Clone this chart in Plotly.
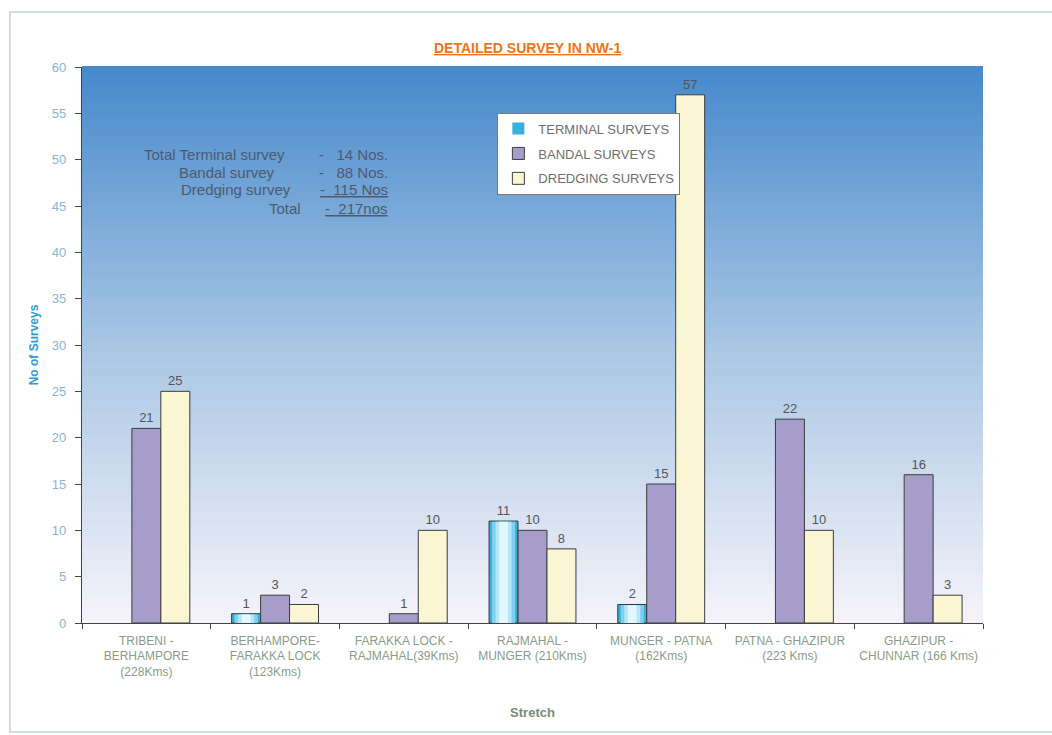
import plotly.graph_objects as go

# Survey counts per stretch of NW-1
stretches = [
    "TRIBENI -<br>BERHAMPORE<br>(228Kms)",
    "BERHAMPORE-<br>FARAKKA LOCK<br>(123Kms)",
    "FARAKKA LOCK -<br>RAJMAHAL(39Kms)",
    "RAJMAHAL -<br>MUNGER (210Kms)",
    "MUNGER - PATNA<br>(162Kms)",
    "PATNA - GHAZIPUR<br>(223 Kms)",
    "GHAZIPUR -<br>CHUNNAR (166 Kms)",
]
terminal_surveys = [0, 1, 0, 11, 2, 0, 0]
bandal_surveys = [21, 3, 1, 10, 15, 22, 16]
dredging_surveys = [25, 2, 10, 8, 57, 10, 3]

y_ticks = list(range(0, 61, 5))

summary_labels = ["Total Terminal survey", "Bandal survey", "Dredging survey", "Total"]
summary_values = ["-   14 Nos.", "-   88 Nos.", "<u>-  115 Nos</u>", "<u>-  217nos</u>"]

FONT = "Liberation Sans, Arial, sans-serif"
BAR_W = 0.225
OFFSETS = [-1.5 * BAR_W, -0.5 * BAR_W, 0.5 * BAR_W]


def label_text(vals):
    return [str(v) if v > 0 else "" for v in vals]


def outline(vals):
    return [1 if v > 0 else 0 for v in vals]


fig = go.Figure()

# terminal bars: cyan body with lighter inner bands for a rounded look
fig.add_trace(go.Bar(
    name="TERMINAL SURVEYS", x=stretches, y=terminal_surveys,
    width=BAR_W, offset=OFFSETS[0], legendgroup="t",
    marker=dict(color="#3aafda", line=dict(color="#2c3c44", width=outline(terminal_surveys))),
    text=label_text(terminal_surveys), textposition="outside", cliponaxis=False,
    textfont=dict(family=FONT, size=13, color="#555555"),
))
for frac, col in [(0.8, "#7fcfef"), (0.55, "#b6e6f9"), (0.3, "#e2f7fe")]:
    w = BAR_W * frac
    fig.add_trace(go.Bar(
        x=stretches, y=[v - 0.08 if v > 0 else 0 for v in terminal_surveys],
        width=w, offset=OFFSETS[0] + (BAR_W - w) / 2, showlegend=False,
        marker=dict(color=col, line=dict(width=0)), hoverinfo="skip",
    ))

for name, vals, color, off, grp in [
    ("BANDAL SURVEYS", bandal_surveys, "#a69dca", OFFSETS[1], "b"),
    ("DREDGING SURVEYS", dredging_surveys, "#faf6d4", OFFSETS[2], "d"),
]:
    fig.add_trace(go.Bar(
        name=name, x=stretches, y=vals, width=BAR_W, offset=off, legendgroup=grp,
        marker=dict(color=color, line=dict(color="#3c3c3c", width=outline(vals))),
        text=label_text(vals), textposition="outside", cliponaxis=False,
        textfont=dict(family=FONT, size=13, color="#555555"),
    ))


# vertical gradient for the plotting area
def mix(c1, c2, t):
    a = [int(c1[i:i + 2], 16) for i in (1, 3, 5)]
    b = [int(c2[i:i + 2], 16) for i in (1, 3, 5)]
    return "#" + "".join(f"{round(a[k] + (b[k] - a[k]) * t):02x}" for k in range(3))


stops = [(0.0, "#f6f3fa"), (0.5, "#a8c6e4"), (1.0, "#4689cc")]
shapes = []
n = 90
for i in range(n):
    y0, y1 = i / n, (i + 1) / n
    t = (y0 + y1) / 2
    for (p0, c0), (p1, c1) in zip(stops, stops[1:]):
        if p0 <= t <= p1:
            col = mix(c0, c1, (t - p0) / (p1 - p0))
            break
    shapes.append(dict(type="rect", xref="x domain", yref="y domain",
                       x0=0, x1=1, y0=y0, y1=y1 + 0.002, fillcolor=col,
                       line=dict(width=0), layer="below"))

# outer frame
shapes.append(dict(type="rect", xref="paper", yref="paper",
                   x0=-0.080, x1=1.2, y0=-0.196, y1=1.099,
                   line=dict(color="#c3cfdb", width=1.5), fillcolor="rgba(0,0,0,0)",
                   layer="below"))

annotations = [
    dict(text="<b><u>DETAILED SURVEY IN NW-1</u></b>", xref="paper", yref="paper",
         x=0.494, y=1.034, xanchor="center", yanchor="middle", showarrow=False,
         font=dict(family=FONT, size=14, color="#ec7420")),
]

left_x = [287, 277, 293, 303]
row_y = [154, 172, 190, 208]
for lab, val, lx, ry in zip(summary_labels, summary_values, left_x, row_y):
    yp = (623 - ry) / 556
    annotations.append(dict(text=lab, xref="paper", yref="paper",
                            x=(lx - 82) / 901, y=yp, xanchor="right", yanchor="middle",
                            showarrow=False, font=dict(family=FONT, size=15, color="#4c5a70")))
    annotations.append(dict(text=val, xref="paper", yref="paper",
                            x=(390 - 82) / 901, y=yp, xanchor="right", yanchor="middle",
                            showarrow=False, font=dict(family=FONT, size=15, color="#4c5a70")))

fig.update_layout(
    width=1052, height=735,
    margin=dict(l=82, r=69, t=67, b=112),
    paper_bgcolor="white", plot_bgcolor="rgba(0,0,0,0)",
    barmode="overlay",
    shapes=shapes, annotations=annotations,
    font=dict(family=FONT),
    legend=dict(x=0.461, y=0.918, xanchor="left", yanchor="top",
                bgcolor="white", bordercolor="#7a7a7a", borderwidth=1,
                font=dict(family=FONT, size=13, color="#6e6e6e"),
                itemwidth=30, tracegroupgap=5),
    xaxis=dict(
        range=[-0.5, 6.5],
        showline=True, linecolor="#444444", linewidth=1.2,
        ticks="outside", ticklen=5, tickcolor="#444444", tickson="boundaries",
        ticklabelstandoff=6,
        tickfont=dict(family=FONT, size=12, color="#8a9c88"),
        title=dict(text="<b>Stretch</b>", standoff=30,
                   font=dict(family=FONT, size=13, color="#7a8a7a")),
        showgrid=False,
    ),
    yaxis=dict(
        range=[0, 60], tickvals=y_ticks,
        showline=True, linecolor="#444444", linewidth=1.2,
        ticks="outside", ticklen=6, tickcolor="#444444",
        ticklabelstandoff=6,
        tickfont=dict(family=FONT, size=13, color="#84b6dc"),
        title=dict(text="<b>No of Surveys</b>", standoff=10,
                   font=dict(family=FONT, size=12, color="#2f9ad8")),
        showgrid=False, zeroline=False,
    ),
)

fig.write_html("out.html")
